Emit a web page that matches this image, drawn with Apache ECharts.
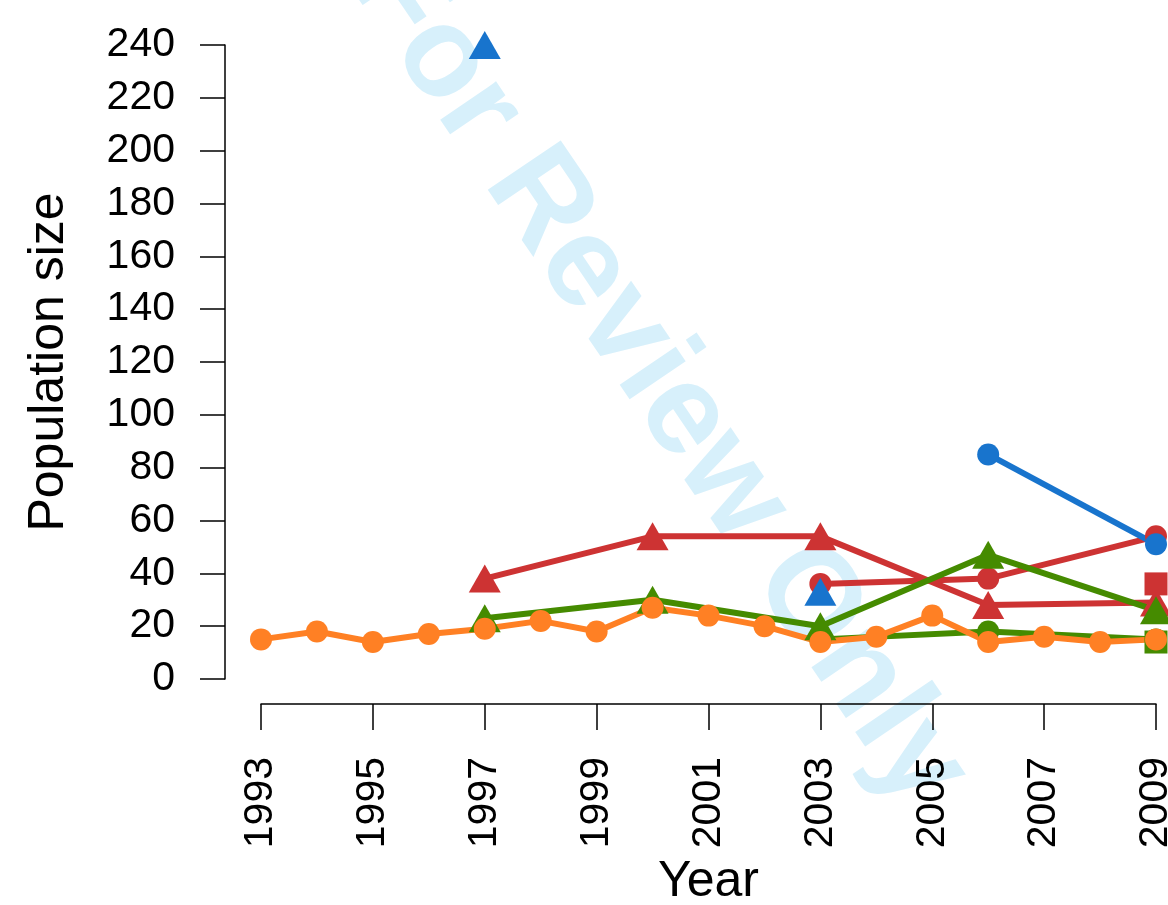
<!DOCTYPE html>
<html><head><meta charset="utf-8">
<script src="https://cdn.jsdelivr.net/npm/echarts@6/dist/echarts.min.js"></script>
<style>html,body{margin:0;padding:0;background:#fff}#c{width:1168px;height:905px}</style>
</head><body><div id="c"></div>
<script>
// ---- data ----
const years = ['1993','1994','1995','1996','1997','1998','1999','2000','2001','2002','2003','2004','2005','2006','2007','2008','2009'];
const surveyYears = ['1997','2000','2003','2006','2009'];
const orangeCircle = [15,18,14,17,19,22,18,27,24,20,14,16,24,14,16,14,15];
const redTriangle = [38,54,54,28,29];
const redCircle = [null,null,36,38,54];
const redSquare = [null,null,null,null,36];
const greenTriangle = [23,30,20,47,26];
const greenCircle = [null,null,15,18,15];
const greenSquare = [null,null,null,null,14];
const blueTriangle = [240,null,33,null,null];
const blueCircle = [null,null,null,85,51];
const yAxisTitle = 'Population size';
const xAxisTitle = 'Year';
const watermark = 'For Review Only';

// ---- styles ----
const FONT = '"Liberation Sans", Arial, Helvetica, sans-serif';
const RED = '#CD3333', GREEN = '#458B00', BLUE = '#1874CD', ORANGE = '#FF8024';
const TRI = [32, 28], CIR = 22, SQ = 23, LW = 6;

function expand(vals) {
  const out = years.map(() => '-');
  surveyYears.forEach((y, i) => {
    const v = vals[i];
    if (v !== null && v !== undefined) out[years.indexOf(y)] = v;
  });
  return out;
}
function mk(name, data, color, symbol, size, connect) {
  return {
    name, type: 'line', data, symbol, symbolSize: size, showSymbol: true,
    connectNulls: connect, clip: false, animation: false, silent: true,
    lineStyle: { color, width: LW }, itemStyle: { color, borderWidth: 0 },
    emphasis: { disabled: true }
  };
}

const chart = echarts.init(document.getElementById('c'), null, { renderer: 'canvas' });
chart.setOption({
  backgroundColor: '#fff',
  animation: false,
  graphic: { elements: [{
    type: 'text', z: -10, silent: true,
    x: 658, y: 378, rotation: -0.975,
    style: { text: watermark, fontSize: 128, fontWeight: 'bold', fontFamily: FONT, fill: '#d7f0fb',
             align: 'center', verticalAlign: 'middle', textAlign: 'center', textVerticalAlign: 'middle' }
  }]},
  grid: { left: 261, right: 12, top: 45, bottom: 226, containLabel: false, outerBoundsMode: 'none' },
  xAxis: {
    type: 'category', data: years, boundaryGap: false, offset: 25,
    axisLine: { show: true, onZero: false, lineStyle: { color: '#000', width: 1.5 } },
    axisTick: { show: true, interval: 1, length: 26, lineStyle: { color: '#000', width: 1.5 } },
    axisLabel: { interval: 1, rotate: 90, margin: 53, fontSize: 41, color: '#000', fontFamily: FONT },
    splitLine: { show: false },
    name: xAxisTitle, nameLocation: 'middle', nameGap: 153,
    nameTextStyle: { fontSize: 50, color: '#000', fontFamily: FONT }
  },
  yAxis: {
    type: 'value', min: 0, max: 240, interval: 20, offset: 36,
    axisLine: { show: true, onZero: false, lineStyle: { color: '#000', width: 1.5 } },
    axisTick: { show: true, length: 25, lineStyle: { color: '#000', width: 1.5 } },
    axisLabel: { margin: 50, fontSize: 41, color: '#000', fontFamily: FONT },
    splitLine: { show: false },
    name: yAxisTitle, nameLocation: 'middle', nameGap: 151,
    nameTextStyle: { fontSize: 50, color: '#000', fontFamily: FONT }
  },
  series: [
    mk('red triangle', expand(redTriangle), RED, 'triangle', TRI, true),
    mk('red circle', expand(redCircle), RED, 'circle', CIR, true),
    mk('red square', expand(redSquare), RED, 'rect', SQ, true),
    mk('green triangle', expand(greenTriangle), GREEN, 'triangle', TRI, true),
    mk('green circle', expand(greenCircle), GREEN, 'circle', CIR, true),
    mk('green square', expand(greenSquare), GREEN, 'rect', SQ, true),
    mk('blue triangle', expand(blueTriangle), BLUE, 'triangle', TRI, false),
    mk('blue circle', expand(blueCircle), BLUE, 'circle', CIR, true),
    mk('orange circle', orangeCircle, ORANGE, 'circle', CIR, true)
  ]
});
</script>
</body></html>
